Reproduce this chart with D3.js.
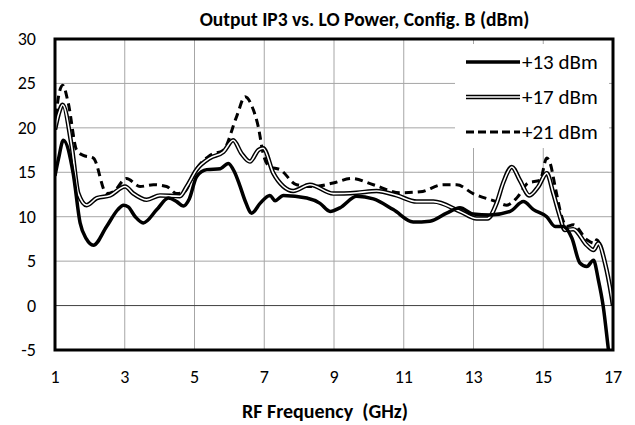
<!DOCTYPE html>
<meta charset="utf-8">
<head>
    <!-- Load d3.js -->
    <script src="https://d3js.org/d3.v7.min.js"></script>
</head>
<style>
    body { margin: 0; background: white; }
    text { font-family: Carlito, Lato, sans-serif; fill: black; }
    .tick-label { font-size: 18px; }
    .title { font-size: 19.5px; font-weight: bold; }
    .axis-title { font-size: 20px; font-weight: bold; }
    .legend-label { font-size: 21px; }
</style>
<body>
<div id="my_dataviz"></div>
<script>

    // series: frequency (GHz) and output IP3 (dBm)
    var freq13 = [1, 1.1, 1.24, 1.52, 1.72, 1.9, 2.1, 2.48, 2.8, 2.96, 3.1, 3.3, 3.53, 3.92, 4.25, 4.49, 4.68, 4.85, 5.06, 5.35, 5.74, 5.97, 6.15, 6.3, 6.45, 6.64, 6.88, 7.16, 7.31, 7.55, 8.22, 8.6, 8.89, 9.17, 9.65, 10.13, 10.7, 11.27, 11.75, 12.23, 12.61, 12.99, 13.47, 14.05, 14.43, 14.72, 15.1, 15.34, 15.58, 15.82, 16.05, 16.25, 16.44, 16.58, 16.72, 16.87, 17];
    var ip3_13 = [14.6, 16.5, 18.6, 14.9, 9.3, 7.5, 6.8, 8.9, 10.8, 11.3, 11.1, 10.0, 9.3, 10.8, 12.1, 11.7, 11.2, 12.0, 14.5, 15.3, 15.4, 16.0, 15.0, 13.5, 11.8, 10.4, 11.5, 12.4, 11.8, 12.4, 12.1, 11.5, 10.6, 11.0, 12.3, 12.0, 10.8, 9.4, 9.5, 10.4, 11.0, 10.3, 10.2, 10.6, 11.7, 10.8, 10.0, 8.9, 8.9, 7.6, 4.8, 4.4, 5.1, 2.9, -0.1, -5.0, -9.2];

    var freq17 = [1, 1.1, 1.22, 1.48, 1.67, 1.91, 2.2, 2.58, 3.01, 3.25, 3.63, 4.01, 4.58, 4.78, 5.06, 5.44, 5.83, 6.11, 6.35, 6.59, 6.83, 6.97, 7.26, 7.55, 7.83, 8.31, 8.98, 9.65, 10.22, 10.8, 11.37, 11.85, 12.61, 13.09, 13.4, 13.66, 13.85, 14.1, 14.33, 14.6, 14.86, 15.1, 15.29, 15.48, 15.62, 15.86, 16.25, 16.44, 16.58, 16.77, 16.96, 17];
    var ip3_17 = [19.8, 21.5, 22.6, 17.9, 12.6, 11.3, 12.1, 12.4, 13.4, 12.6, 11.9, 12.4, 12.3, 13.4, 15.3, 16.6, 17.3, 18.6, 17.1, 16.2, 17.5, 17.7, 14.9, 13.4, 12.9, 13.6, 12.6, 12.7, 12.9, 12.4, 11.7, 11.7, 10.6, 9.8, 9.8, 11.5, 13.8, 15.6, 14.1, 12.4, 13.4, 14.9, 12.6, 10.0, 8.5, 8.6, 6.8, 6.25, 7.0, 4.8, 1.0, 0.0];

    var freq21 = [1, 1.1, 1.22, 1.38, 1.62, 1.81, 2.1, 2.48, 2.67, 3.05, 3.44, 3.82, 4.2, 4.49, 4.68, 5.06, 5.44, 5.83, 6.21, 6.45, 6.69, 6.83, 6.97, 7.16, 7.45, 7.93, 8.41, 8.98, 9.51, 10.13, 10.89, 11.47, 12.13, 12.52, 12.99, 13.66, 13.95, 14.24, 14.57, 14.91, 15.1, 15.2, 15.34, 15.53, 15.67, 15.86, 16.25, 16.48, 16.53, 16.72, 16.96, 17];
    var ip3_21 = [19.8, 23.5, 24.8, 22.8, 17.5, 16.9, 16.6, 12.6, 12.8, 14.3, 13.4, 13.6, 13.4, 12.6, 12.7, 15.4, 16.9, 17.5, 21.3, 23.5, 22.0, 20.1, 17.1, 15.6, 15.3, 13.6, 13.4, 13.8, 14.3, 13.6, 12.7, 12.8, 13.6, 13.6, 12.6, 11.7, 11.3, 12.1, 13.8, 14.1, 16.6, 16.0, 13.4, 10.0, 8.9, 9.1, 7.4, 7.0, 7.4, 5.6, 1.0, 0.0];

    var seriesNames = ["+13 dBm", "+17 dBm", "+21 dBm"];
    var xTicks = [1, 3, 5, 7, 9, 11, 13, 15, 17];
    var yTicks = [-5, 0, 5, 10, 15, 20, 25, 30];

    // set the dimensions and margins of the graph
    var margin = {top: 39, right: 22, bottom: 75, left: 55},
        width = 635 - margin.left - margin.right,
        height = 425 - margin.top - margin.bottom;

    var svg = d3.select("#my_dataviz")
        .append("svg")
        .attr("width", 635)
        .attr("height", 425)
        .append("g")
        .attr("transform", "translate(" + margin.left + "," + margin.top + ")");

    var x = d3.scaleLinear().domain([1, 17]).range([0, width]);
    var y = d3.scaleLinear().domain([-5, 30]).range([height, 0]);

    // gridlines
    svg.append("g")
        .selectAll("line")
        .data(xTicks.slice(1, -1))
        .enter()
        .append("line")
        .attr("x1", function(d) { return x(d); })
        .attr("x2", function(d) { return x(d); })
        .attr("y1", 0)
        .attr("y2", height)
        .attr("stroke", "#a6a6a6")
        .attr("stroke-width", 1);
    svg.append("g")
        .selectAll("line")
        .data(yTicks.slice(1, -1))
        .enter()
        .append("line")
        .attr("x1", 0)
        .attr("x2", width)
        .attr("y1", function(d) { return y(d); })
        .attr("y2", function(d) { return y(d); })
        .attr("stroke", function(d) { return d === 0 ? "#404040" : "#a6a6a6"; })
        .attr("stroke-width", 1);

    // tick labels
    svg.append("g")
        .selectAll("text")
        .data(yTicks)
        .enter()
        .append("text")
        .attr("class", "tick-label")
        .attr("text-anchor", "end")
        .attr("x", -19)
        .attr("y", function(d) { return y(d) + 6; })
        .text(function(d) { return d; });
    svg.append("g")
        .selectAll("text")
        .data(xTicks)
        .enter()
        .append("text")
        .attr("class", "tick-label")
        .attr("text-anchor", "middle")
        .attr("x", function(d) { return x(d); })
        .attr("y", height + 33)
        .text(function(d) { return d; });

    // legend background hides the gridlines behind it
    svg.append("rect")
        .attr("x", 400)
        .attr("y", 5)
        .attr("width", 154)
        .attr("height", 104)
        .attr("fill", "white");

    // clip the curves to the plot area
    svg.append("clipPath")
        .attr("id", "clip")
        .append("rect")
        .attr("width", width)
        .attr("height", height);

    var line = d3.line()
        .x(function(d) { return x(d[0]); })
        .y(function(d) { return y(d[1]); })
        .curve(d3.curveMonotoneX);

    var plot = svg.append("g").attr("clip-path", "url(#clip)");

    var s13 = d3.zip(freq13, ip3_13);
    var s17 = d3.zip(freq17, ip3_17);
    var s21 = d3.zip(freq21, ip3_21);

    plot.append("path").datum(s21)
        .attr("d", line).attr("fill", "none")
        .attr("stroke", "black").attr("stroke-width", 3)
        .attr("stroke-dasharray", "8,5");
    plot.append("path").datum(s17)
        .attr("d", line).attr("fill", "none")
        .attr("stroke", "black").attr("stroke-width", 4.5);
    plot.append("path").datum(s17)
        .attr("d", line).attr("fill", "none")
        .attr("stroke", "white").attr("stroke-width", 1.6);
    plot.append("path").datum(s13)
        .attr("d", line).attr("fill", "none")
        .attr("stroke", "black").attr("stroke-width", 3.5);

    // plot border
    svg.append("rect")
        .attr("width", width)
        .attr("height", height)
        .attr("fill", "none")
        .attr("stroke", "black")
        .attr("stroke-width", 3);

    // legend
    var legendY = [23, 58, 93];
    var legend = svg.append("g");
    legend.append("line")
        .attr("x1", 411).attr("x2", 465).attr("y1", legendY[0]).attr("y2", legendY[0])
        .attr("stroke", "black").attr("stroke-width", 3.5);
    legend.append("line")
        .attr("x1", 411).attr("x2", 465).attr("y1", legendY[1]).attr("y2", legendY[1])
        .attr("stroke", "black").attr("stroke-width", 4.5);
    legend.append("line")
        .attr("x1", 411).attr("x2", 465).attr("y1", legendY[1]).attr("y2", legendY[1])
        .attr("stroke", "white").attr("stroke-width", 1.6);
    legend.append("line")
        .attr("x1", 411).attr("x2", 465).attr("y1", legendY[2]).attr("y2", legendY[2])
        .attr("stroke", "black").attr("stroke-width", 3)
        .attr("stroke-dasharray", "8,4");
    legend.selectAll("text")
        .data(seriesNames)
        .enter()
        .append("text")
        .attr("class", "legend-label")
        .attr("x", 467)
        .attr("y", function(d, i) { return legendY[i] + 7; })
        .text(function(d) { return d; });

    // titles
    svg.append("text")
        .attr("class", "title")
        .attr("text-anchor", "middle")
        .attr("x", 364.5 - margin.left)
        .attr("y", 26 - margin.top)
        .text("Output IP3 vs. LO Power, Config. B (dBm)");
    svg.append("text")
        .attr("class", "axis-title")
        .attr("text-anchor", "middle")
        .attr("x", 325 - margin.left)
        .attr("y", 418 - margin.top)
        .attr("xml:space", "preserve")
        .style("white-space", "pre")
        .text("RF Frequency  (GHz)");

</script>
</body>
